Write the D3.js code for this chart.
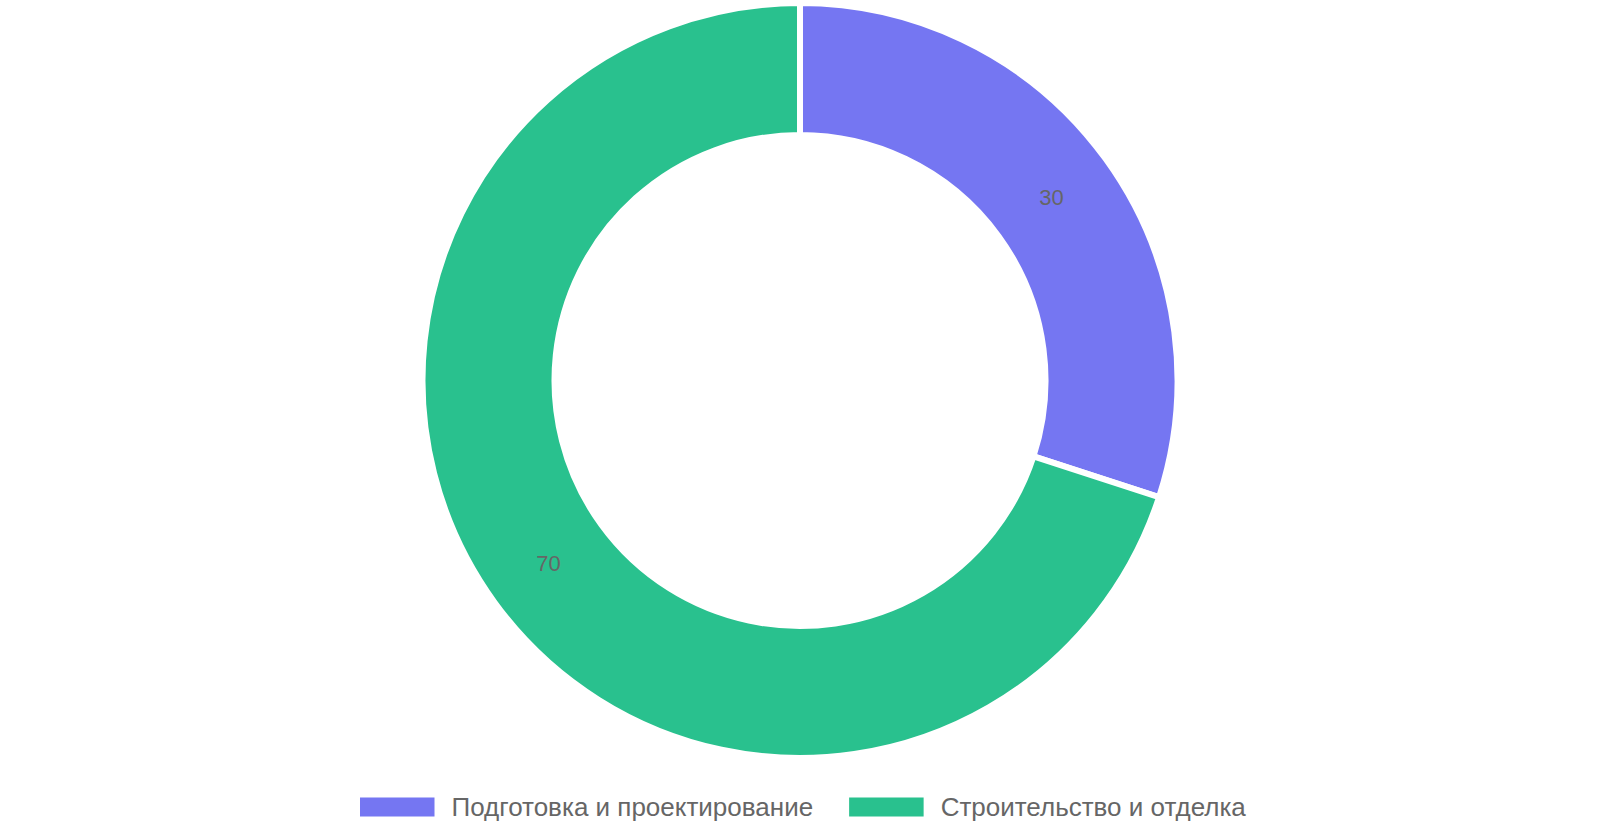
<!DOCTYPE html>
<html lang="ru">
<head>
<meta charset="utf-8">
<title>Donut</title>
<script src="https://cdn.jsdelivr.net/npm/d3@7"></script>
<style>
  body { margin: 0; background: #fff; }
  text { font-family: "Liberation Sans", Arial, sans-serif; }
</style>
</head>
<body>
<div id="chart"></div>
<script>
var categories = ["Подготовка и проектирование", "Строительство и отделка"];
var values = [30, 70];
var colors = ["#7576F2", "#29C18E"];

var width = 1600, height = 840;
var cx = 800, cy = 380.5;

var svg = d3.select("#chart").append("svg")
    .attr("width", width)
    .attr("height", height);

var pie = d3.pie().sort(null).value(function(d) { return d; });
var arc = d3.arc().innerRadius(245.5).outerRadius(377.5);
var labelArc = d3.arc().innerRadius(311).outerRadius(311);

var g = svg.append("g").attr("transform", "translate(" + cx + "," + cy + ")");

var slices = pie(values);

g.selectAll("path.slice")
    .data(slices)
  .enter().append("path")
    .attr("class", "slice")
    .attr("d", arc)
    .attr("fill", function(d, i) { return colors[i]; })
    .attr("stroke", "#fff")
    .attr("stroke-width", 6);

g.selectAll("text.lbl")
    .data(slices)
  .enter().append("text")
    .attr("class", "lbl")
    .attr("transform", function(d) { return "translate(" + labelArc.centroid(d) + ")"; })
    .attr("text-anchor", "middle")
    .attr("dy", "0.35em")
    .attr("font-size", 22)
    .attr("fill", "#666")
    .text(function(d) { return d.data; });

// legend
var legend = svg.append("g").attr("transform", "translate(0,807)");
var x = 360;
categories.forEach(function(c, i) {
  legend.append("rect")
      .attr("x", x).attr("y", -9.5)
      .attr("width", 74.5).attr("height", 19)
      .attr("fill", colors[i]);
  var t = legend.append("text")
      .attr("x", x + 91.5).attr("y", 0)
      .attr("dy", "0.35em")
      .attr("font-size", 26)
      .attr("fill", "#666")
      .text(c);
  x = x + 91.5 + t.node().getComputedTextLength() + 36;
});
</script>
</body>
</html>
